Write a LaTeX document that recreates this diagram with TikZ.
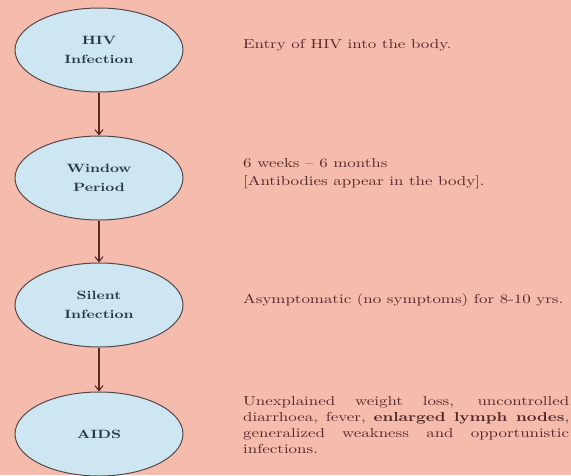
\documentclass[tikz,border=0pt]{standalone}
\usepackage{fontspec}
\setmainfont{lmroman10-regular.otf}[
  BoldFont=lmroman10-bold.otf,
  ItalicFont=lmroman10-italic.otf,
  FakeStretch=1.3]
\usetikzlibrary{arrows.meta,shapes.geometric}
\definecolor{bgpink}{RGB}{245,187,173}
\definecolor{stagefill}{RGB}{206,230,242}
\definecolor{stageline}{RGB}{85,72,72}
\definecolor{arrowcol}{RGB}{90,40,32}
\definecolor{stagetext}{RGB}{40,55,70}
\definecolor{notetext}{RGB}{85,40,42}
\begin{document}
\begin{tikzpicture}[x=1pt,y=-1pt,
  stage/.style={ellipse, draw=stageline, line width=1pt, fill=stagefill,
    minimum width=168pt, minimum height=84pt, inner sep=0pt,
    align=center, text=stagetext, font=\fontsize{12}{19}\selectfont\bfseries},
  note/.style={anchor=west, text=notetext, inner sep=0pt, align=left,
    font=\fontsize{13}{18}\selectfont},
  flow/.style={draw=arrowcol, line width=1.1pt, -{Straight Barb[length=5pt,width=8pt]}}]
  \fill[bgpink] (0,0) rectangle (571,475);
  \useasboundingbox (0,0) rectangle (571,475);

  % stages of the infection
  \node[stage] (hiv) at (99,50) {HIV\\Infection};
  \node[stage] (window) at (99,178) {Window\\Period};
  \node[stage] (silent) at (99,305) {Silent\\Infection};
  \node[stage] (aids) at (99,434) {AIDS};

  \draw[flow] (hiv) -- (window);
  \draw[flow] (window) -- (silent);
  \draw[flow] (silent) -- (aids);

  % descriptions
  \node[note] (d1) at (243,45) {Entry of HIV into the body.};
  \node[note] (d2) at (243,174) {6 weeks -- 6 months\\{[}Antibodies appear in the body{]}.};
  \node[note] (d3) at (243,300) {Asymptomatic (no symptoms) for 8-10 yrs.};
  \node[note, anchor=north west, text width=326pt, align=justify,
    font=\fontsize{13}{16}\selectfont] (d4) at (243,396)
    {\hyphenpenalty=10000 Unexplained weight loss, uncontrolled\linebreak
     diarrhoea, fever, \textbf{enlarged lymph nodes},\linebreak
     generalized weakness and opportunistic\linebreak
     infections.};
\end{tikzpicture}
\end{document}
